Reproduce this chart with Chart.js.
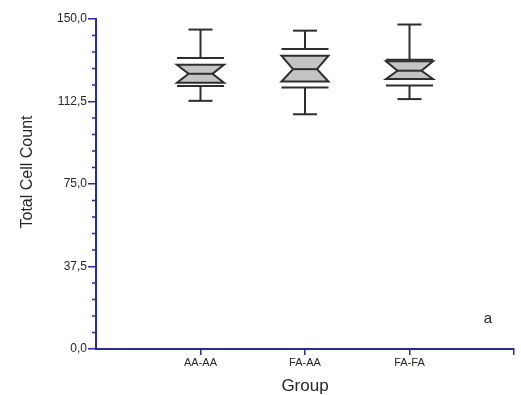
<!DOCTYPE html>
<html>
<head>
<meta charset="utf-8">
<script src="https://cdn.jsdelivr.net/npm/chart.js@4"></script>
<style>
  body { margin: 0; background: #fff; }
  canvas { display: block; }
</style>
</head>
<body>
<canvas id="boxChart" width="521" height="395"></canvas>
<script>
const categories = ['AA-AA', 'FA-AA', 'FA-FA'];
const whiskerMax = [145.2, 144.7, 147.5];
const upperLine = [132.3, 136.4, 131.5];
const notchTop = [129.2, 133.3, 130.8];
const medians = [125.1, 127.2, 126.5];
const notchBottom = [121.0, 121.6, 122.7];
const lowerLine = [119.6, 118.9, 119.8];
const whiskerMin = [112.8, 106.7, 113.6];
const yTicks = [0, 37.5, 75, 112.5, 150];
const minorStep = 7.5;
const panelLabel = 'a';

const axisColor = '#2a2a9c';
const textColor = '#262626';

const ctx = document.getElementById('boxChart').getContext('2d');

// notched boxes, drawn through the chart scales
const boxPlugin = {
  id: 'boxPlugin',
  afterDatasetsDraw(chart) {
    const c = chart.ctx;
    const x = chart.scales.x;
    const y = chart.scales.y;
    const area = chart.chartArea;
    c.save();
    c.strokeStyle = '#2e2e2e';
    c.lineWidth = 2;
    categories.forEach(function (cat, i) {
      const cx = x.getPixelForValue(i + 1);
      const half = 23.5, notch = 12, cap = 12;
      // whiskers
      c.beginPath();
      c.moveTo(cx, y.getPixelForValue(whiskerMax[i]));
      c.lineTo(cx, y.getPixelForValue(upperLine[i]));
      c.moveTo(cx, y.getPixelForValue(lowerLine[i]));
      c.lineTo(cx, y.getPixelForValue(whiskerMin[i]));
      c.stroke();
      // caps and outer lines
      [[whiskerMax[i], cap], [whiskerMin[i], cap], [upperLine[i], half], [lowerLine[i], half]].forEach(function (h) {
        const py = y.getPixelForValue(h[0]);
        c.beginPath();
        c.moveTo(cx - h[1], py);
        c.lineTo(cx + h[1], py);
        c.stroke();
      });
      // hourglass
      const t = y.getPixelForValue(notchTop[i]);
      const m = y.getPixelForValue(medians[i]);
      const b = y.getPixelForValue(notchBottom[i]);
      c.beginPath();
      c.moveTo(cx - half, t);
      c.lineTo(cx + half, t);
      c.lineTo(cx + notch, m);
      c.lineTo(cx + half, b);
      c.lineTo(cx - half, b);
      c.lineTo(cx - notch, m);
      c.closePath();
      c.fillStyle = '#c4c4c4';
      c.fill();
      c.stroke();
      c.beginPath();
      c.moveTo(cx - notch, m);
      c.lineTo(cx + notch, m);
      c.stroke();
    });

    // minor ticks on y
    c.strokeStyle = axisColor;
    c.lineWidth = 1.5;
    for (let v = 0; v <= 150; v += minorStep) {
      if (yTicks.indexOf(v) !== -1) continue;
      const py = y.getPixelForValue(v);
      c.beginPath();
      c.moveTo(area.left - 4, py);
      c.lineTo(area.left, py);
      c.stroke();
    }

    // y title
    c.fillStyle = textColor;
    c.font = '16px "Liberation Sans", Arial, sans-serif';
    c.textAlign = 'center';
    c.textBaseline = 'alphabetic';
    c.translate(31.5, (area.top + area.bottom) / 2 - 12);
    c.rotate(-Math.PI / 2);
    c.fillText('Total Cell Count', 0, 0);
    c.restore();

    // panel letter
    c.save();
    c.fillStyle = textColor;
    c.font = '15px "Liberation Sans", Arial, sans-serif';
    c.textAlign = 'center';
    c.textBaseline = 'alphabetic';
    c.fillText(panelLabel, area.right - 26, area.bottom - 26);
    c.restore();
  }
};

let chart = new Chart(ctx, {
  type: 'scatter',
  data: {
    datasets: [{
      label: 'Median',
      data: categories.map(function (cat, i) { return { x: i + 1, y: medians[i] }; }),
      pointRadius: 0,
      showLine: false
    }]
  },
  options: {
    responsive: false,
    animation: false,
    devicePixelRatio: 1,
    layout: { padding: { top: 19, right: 7, bottom: 0, left: 0 } },
    plugins: {
      legend: { display: false },
      tooltip: { enabled: false }
    },
    scales: {
      x: {
        type: 'linear',
        min: 0,
        max: categories.length + 1,
        afterBuildTicks: function (scale) {
          scale.ticks = categories.map(function (cat, i) { return { value: i + 1 }; })
            .concat([{ value: categories.length + 1 }]);
        },
        afterFit: function (scale) { scale.height = 46; },
        ticks: {
          autoSkip: false,
          maxRotation: 0,
          padding: 1,
          color: textColor,
          font: { family: '"Liberation Sans", Arial, sans-serif', size: 11 },
          callback: function (value) { return categories[value - 1] || ''; }
        },
        grid: {
          drawOnChartArea: false,
          color: axisColor,
          tickLength: 6,
          lineWidth: 1.5
        },
        border: { color: axisColor, width: 2 },
        title: {
          display: true,
          text: 'Group',
          color: textColor,
          font: { family: '"Liberation Sans", Arial, sans-serif', size: 17 },
          padding: { top: 0, bottom: -2 }
        }
      },
      y: {
        min: 0,
        max: 150,
        afterBuildTicks: function (scale) {
          scale.ticks = yTicks.map(function (v) { return { value: v }; });
        },
        afterFit: function (scale) { scale.width = 96; },
        ticks: {
          padding: 1,
          color: textColor,
          font: { family: '"Liberation Sans", Arial, sans-serif', size: 12 },
          callback: function (value) { return value.toFixed(1).replace('.', ','); }
        },
        grid: {
          drawOnChartArea: false,
          color: axisColor,
          tickLength: 8,
          lineWidth: 1.5
        },
        border: { color: axisColor, width: 2 }
      }
    }
  },
  plugins: [boxPlugin]
});
</script>
</body>
</html>
